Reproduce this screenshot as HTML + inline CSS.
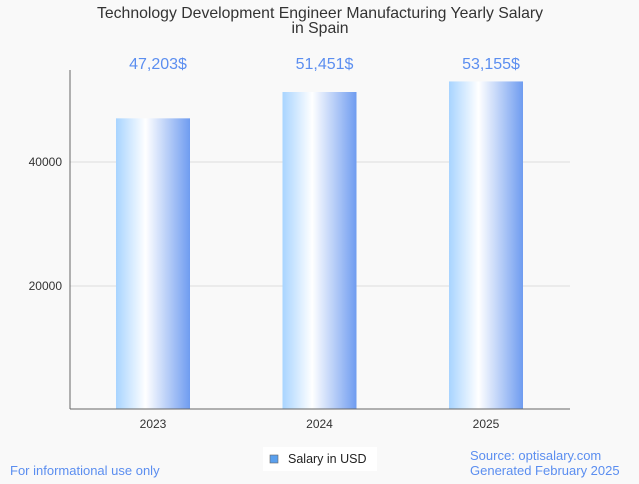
<!DOCTYPE html>
<html><head><meta charset="utf-8"><style>
body{margin:0;background:#f9f9f9;width:639px;height:479px;overflow:hidden;font-family:"Liberation Sans",sans-serif}
</style></head><body>
<svg width="639" height="479">
<defs><linearGradient id="g" x1="0" x2="1" y1="0" y2="0">
<stop offset="0" stop-color="#a8d4ff"/><stop offset="0.4" stop-color="#ffffff"/><stop offset="1" stop-color="#6f9cf0"/></linearGradient></defs>
<text x="320" y="18" text-anchor="middle" font-size="15.8" fill="#333">Technology Development Engineer Manufacturing Yearly Salary</text>
<text x="320" y="33" text-anchor="middle" font-size="15.8" fill="#333">in Spain</text>
<g id="grid"></g>
<g id="bars"></g>
<line x1="70" y1="70" x2="70" y2="409" stroke="#666"/>
<line x1="70" y1="409" x2="570" y2="409" stroke="#666"/>
<rect x="263" y="447" width="114" height="24" fill="#fff"/>
<rect x="270" y="455" width="8" height="8" fill="#5aa0ee" stroke="#666" stroke-width="0.6"/>
<text x="288" y="463" font-size="12.5" fill="#222">Salary in USD</text>
<text x="10" y="475" font-size="13" fill="#5b8ef0">For informational use only</text>
<text x="470" y="460" font-size="13" fill="#5b8ef0">Source: optisalary.com</text>
<text x="470" y="475" font-size="13" fill="#5b8ef0">Generated February 2025</text>
</svg>
<script>
const categories=["2023","2024","2025"];
const values=[47203,51451,53155];
const labels=["47,203$","51,451$","53,155$"];
const ticks=[20000,40000];
const y=v=>410-v*124/20000;
const x=i=>153+i*166.5;
const ns="http://www.w3.org/2000/svg";
function mk(t,a,p){const e=document.createElementNS(ns,t);for(const k in a)e.setAttribute(k,a[k]);p.appendChild(e);return e;}
const grid=document.getElementById('grid'),bars=document.getElementById('bars');
ticks.forEach(t=>{
 const l=mk('line',{x1:70,x2:570,y1:y(t),y2:y(t),stroke:'#ddd'},grid);
 
 
 const tx=mk('text',{x:62,y:y(t)+4,'text-anchor':'end','font-size':12,fill:'#333'},grid);
 tx.textContent=t;
 
 
});
categories.forEach((c,i)=>{
 const r=mk('rect',{x:x(i)-37,y:y(values[i])+1,width:74,height:409-y(values[i])-1,fill:'url(#g)'},bars);
 
 
 const v=mk('text',{x:x(i)+5,y:69,'text-anchor':'middle','font-size':16,fill:'#5b8ef0'},bars);
 v.textContent=labels[i];
 
 
 const t=mk('text',{x:x(i),y:428,'text-anchor':'middle','font-size':12,fill:'#333'},bars);
 t.textContent=c;
 
 
});
</script>
</body></html>
